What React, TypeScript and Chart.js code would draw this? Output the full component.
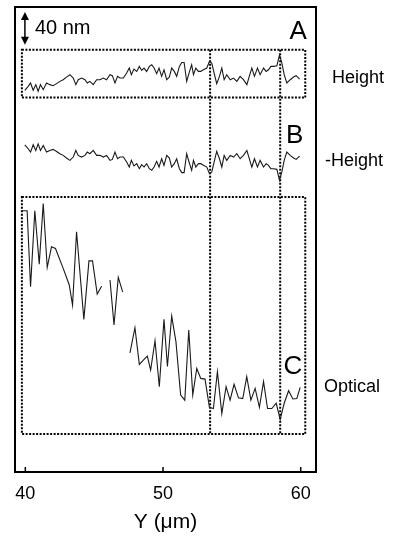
import React, { useEffect, useRef } from "react";
import { Chart, registerables } from "chart.js";

Chart.register(...registerables);

// Scan position along Y (µm) for the topography trace
const heightX = [
  39.96, 40.21, 40.38, 40.57, 40.76, 40.93, 41.10, 41.30, 41.54, 41.78,
  42.02, 42.27, 42.51, 42.75, 42.99, 43.24, 43.48, 43.67, 43.84, 44.08,
  44.33, 44.50, 44.69, 44.93, 45.18, 45.42, 45.66, 45.90, 46.15, 46.32,
  46.51, 46.70, 46.87, 47.12, 47.36, 47.55, 47.70, 47.89, 48.09, 48.28,
  48.45, 48.62, 48.81, 49.01, 49.18, 49.35, 49.54, 49.71, 49.90, 50.07,
  50.27, 50.46, 50.63, 50.82, 50.99, 51.19, 51.36, 51.53, 51.72, 51.89,
  52.08, 52.21, 52.38, 52.57, 52.74, 52.93, 53.18, 53.37, 53.54, 53.71,
  53.90, 54.10, 54.27, 54.44, 54.63, 54.88, 55.12, 55.36, 55.60, 55.84,
  56.09, 56.28, 56.45, 56.64, 56.86, 57.05, 57.30, 57.49, 57.66, 57.83,
  58.02, 58.27, 58.46, 58.63, 58.80, 58.99, 59.24, 59.48, 59.67, 59.92,
];

// Topography (nm, relative to the floor of box A)
const heightNm = [
  8.9, 13.7, 17.8, 8.9, 15.8, 7.7, 15.8, 9.7, 17.8, 15.8,
  14.5, 17.0, 19.8, 21.8, 25.0, 27.9, 23.8, 15.8, 21.8, 23.8,
  21.8, 17.8, 19.8, 15.8, 21.8, 21.8, 23.8, 21.8, 27.9, 26.7,
  17.8, 25.9, 23.8, 23.8, 29.9, 36.0, 27.9, 34.7, 31.9, 38.0,
  33.1, 36.0, 31.9, 38.0, 40.0, 36.0, 29.1, 36.0, 25.9, 33.9,
  21.8, 25.0, 36.0, 31.9, 25.9, 38.0, 42.8, 42.8, 19.8, 29.9,
  40.0, 27.9, 36.0, 31.9, 31.9, 33.9, 36.0, 44.0, 42.0, 29.9,
  17.0, 25.9, 36.0, 21.8, 27.9, 21.8, 23.8, 19.8, 25.9, 21.8,
  15.8, 26.7, 36.0, 25.9, 36.0, 27.9, 36.0, 31.9, 33.9, 38.0,
  38.0, 38.8, 52.1, 42.0, 27.9, 17.8, 21.8, 25.0, 26.7, 22.6,
];

// Stacking offsets of the two topography traces (nm)
const HEIGHT_OFFSET = 454.5;
const NEG_HEIGHT_OFFSET = 406;

// Optical trace: position (µm) and signal (a.u.), null = gap in scan
const opticalX = [
  39.72, 40.13, 40.38, 40.69, 41.01, 41.30, 41.59, 41.90, 42.19, 42.75,
  43.19, 43.43, 43.72, 44.25, 44.62, 44.88, 45.22, 45.54, 45.85,
  46.15, 46.44, 46.75, 47.07, 47.33,
  47.60, 47.96, 48.28, 48.57, 48.86, 49.10, 49.42, 49.73, 50.07, 50.32,
  50.63, 50.94, 51.28, 51.58, 51.87, 52.16, 52.45, 52.74, 53.05, 53.37,
  53.66, 53.95, 54.27, 54.58, 54.87, 55.16, 55.48, 55.79, 56.08, 56.38,
  56.69, 57.00, 57.30, 57.59, 57.90, 58.22, 58.51, 58.80, 59.12, 59.43,
  59.72, 59.96,
];
const opticalAU = [
  94.2, 94.2, 62.2, 94.2, 71.7, 97.3, 70.3, 79.0, 78.3, 69.9,
  62.9, 54.4, 85.4, 48.4, 73.1, 73.1, 59.1, 62.4, null,
  65.0, 46.0, 66.1, 60.0, null,
  34.3, 44.9, 29.4, 31.2, 32.9, 27.0, 39.4, 20.0, 48.4, 28.5,
  49.8, 38.9, 16.5, 14.3, 43.9, 16.5, 27.7, 23.5, 23.2, 11.3,
  10.8, 26.3, 8.7, 20.0, 14.3, 21.0, 15.3, 15.0, 24.2, 14.3,
  19.3, 11.3, 22.1, 10.8, 10.8, 13.0, 6.2, 13.0, 18.3, 14.8,
  15.0, 19.7,
];

const X_TICKS = [40, 50, 60];
const X_MIN = 39.25;
const X_MAX = 61.11;
const NM_MIN = -1.2;
const NM_MAX = 564.8;
const OPT_MIN = -16.0;
const OPT_MAX = 180.2;

// Annotation geometry, in data units
const BOX_X = [39.75, 60.33];
const BOX_A_NM = [454.5, 512.7];
const BOX_C_OPT = [0, 100];
const MARKER_X = [53.42, 58.51];
const SCALE_BAR = { x: 39.97, from: 518.8, to: 558.8, label: "40 nm" };
const LETTERS = [
  { text: "A", x: 59.82, y: 534.9, axis: "y" },
  { text: "B", x: 59.57, y: 407.9, axis: "y" },
  { text: "C", x: 59.43, y: 28.3, axis: "yOpt" },
];
const SIDE_LABELS = [
  { text: "Height", dx: 16, y: 478.2, axis: "y" },
  { text: "-Height", dx: 9, y: 377, axis: "y" },
  { text: "Optical", dx: 8, y: 19.8, axis: "yOpt" },
];

const FONT = "'Liberation Sans', Arial, sans-serif";

const overlay = {
  id: "overlay",
  beforeDatasetsDraw(chart: any) {
    const { ctx, scales } = chart;
    const x = scales.x, y = scales.y, yo = scales.yOpt;
    ctx.save();
    ctx.strokeStyle = "#000";
    ctx.lineWidth = 2;
    ctx.setLineDash([2, 1.5]);
    const xl = x.getPixelForValue(BOX_X[0]);
    const xr = x.getPixelForValue(BOX_X[1]);
    const aTop = y.getPixelForValue(BOX_A_NM[1]);
    const aBot = y.getPixelForValue(BOX_A_NM[0]);
    ctx.strokeRect(xl, aTop, xr - xl, aBot - aTop);
    const cTop = yo.getPixelForValue(BOX_C_OPT[1]);
    const cBot = yo.getPixelForValue(BOX_C_OPT[0]);
    ctx.strokeRect(xl, cTop, xr - xl, cBot - cTop);
    MARKER_X.forEach((m) => {
      const px = x.getPixelForValue(m);
      ctx.beginPath();
      ctx.moveTo(px, aTop);
      ctx.lineTo(px, cBot);
      ctx.stroke();
    });
    ctx.restore();
  },
  afterDatasetsDraw(chart: any) {
    const { ctx, chartArea: a, scales } = chart;
    const x = scales.x;
    ctx.save();
    // frame
    ctx.strokeStyle = "#000";
    ctx.lineWidth = 2;
    ctx.setLineDash([]);
    ctx.strokeRect(a.left, a.top, a.right - a.left, a.bottom - a.top);
    // inward ticks
    ctx.lineWidth = 1.5;
    X_TICKS.forEach((t) => {
      const px = x.getPixelForValue(t);
      ctx.beginPath();
      ctx.moveTo(px, a.bottom);
      ctx.lineTo(px, a.bottom - 5);
      ctx.stroke();
    });
    // scale bar double arrow
    const bx = x.getPixelForValue(SCALE_BAR.x);
    const by1 = scales.y.getPixelForValue(SCALE_BAR.to);
    const by2 = scales.y.getPixelForValue(SCALE_BAR.from);
    ctx.lineWidth = 1.5;
    ctx.beginPath();
    ctx.moveTo(bx, by1 + 4);
    ctx.lineTo(bx, by2 - 4);
    ctx.stroke();
    ctx.fillStyle = "#000";
    ctx.beginPath();
    ctx.moveTo(bx, by1);
    ctx.lineTo(bx - 4, by1 + 8);
    ctx.lineTo(bx + 4, by1 + 8);
    ctx.closePath();
    ctx.fill();
    ctx.beginPath();
    ctx.moveTo(bx, by2);
    ctx.lineTo(bx - 4, by2 - 8);
    ctx.lineTo(bx + 4, by2 - 8);
    ctx.closePath();
    ctx.fill();
    ctx.font = `20px ${FONT}`;
    ctx.textAlign = "left";
    ctx.textBaseline = "middle";
    ctx.fillText(SCALE_BAR.label, bx + 10, (by1 + by2) / 2);
    // letters
    ctx.font = `26px ${FONT}`;
    ctx.textAlign = "center";
    LETTERS.forEach((l) => {
      ctx.fillText(l.text, x.getPixelForValue(l.x), scales[l.axis].getPixelForValue(l.y));
    });
    // side labels
    ctx.font = `18px ${FONT}`;
    ctx.textAlign = "left";
    SIDE_LABELS.forEach((l) => {
      ctx.fillText(l.text, a.right + l.dx, scales[l.axis].getPixelForValue(l.y));
    });
    ctx.restore();
  },
};

export default function App() {
  const ref = useRef<HTMLCanvasElement | null>(null);
  useEffect(() => {
    if (!ref.current) return;
    const lineStyle = {
      borderColor: "#1a1a1a",
      borderWidth: 1.1,
      pointRadius: 0,
      tension: 0,
      fill: false,
      spanGaps: false,
    };
    const chart = new Chart(ref.current, {
      type: "line",
      data: {
        datasets: [
          {
            label: "Height",
            data: heightX.map((v, i) => ({ x: v, y: HEIGHT_OFFSET + heightNm[i] })),
            yAxisID: "y",
            ...lineStyle,
          },
          {
            label: "-Height",
            data: heightX.map((v, i) => ({ x: v, y: NEG_HEIGHT_OFFSET - heightNm[i] })),
            yAxisID: "y",
            ...lineStyle,
          },
          {
            label: "Optical",
            data: opticalX.map((v, i) => ({ x: v, y: opticalAU[i] })),
            yAxisID: "yOpt",
            ...lineStyle,
          },
        ] as any,
      },
      options: {
        responsive: false,
        animation: false,
        devicePixelRatio: 1,
        layout: { padding: { left: 15, top: 7, right: 82, bottom: 0 } },
        plugins: { legend: { display: false }, tooltip: { enabled: false } },
        scales: {
          x: {
            type: "linear",
            min: X_MIN,
            max: X_MAX,
            grid: { display: false },
            border: { display: false },
            afterBuildTicks: (s: any) => {
              s.ticks = X_TICKS.map((v) => ({ value: v }));
            },
            afterFit: (s: any) => {
              s.height = 67;
            },
            ticks: {
              color: "#000",
              padding: 3,
              maxRotation: 0,
              font: { family: FONT, size: 18 },
            },
            title: {
              display: true,
              text: "Y (μm)",
              color: "#000",
              font: { family: FONT, size: 21 },
              padding: { top: 0, bottom: 4 },
            },
          },
          y: { type: "linear", display: false, min: NM_MIN, max: NM_MAX },
          yOpt: { type: "linear", display: false, min: OPT_MIN, max: OPT_MAX },
        },
      } as any,
      plugins: [overlay],
    });
    return () => chart.destroy();
  }, []);
  return (
    <div style={{ position: "absolute", left: 0, top: 0, width: 398, height: 539, background: "#fff" }}>
      <canvas ref={ref} width={398} height={539} style={{ display: "block" }} />
    </div>
  );
}
